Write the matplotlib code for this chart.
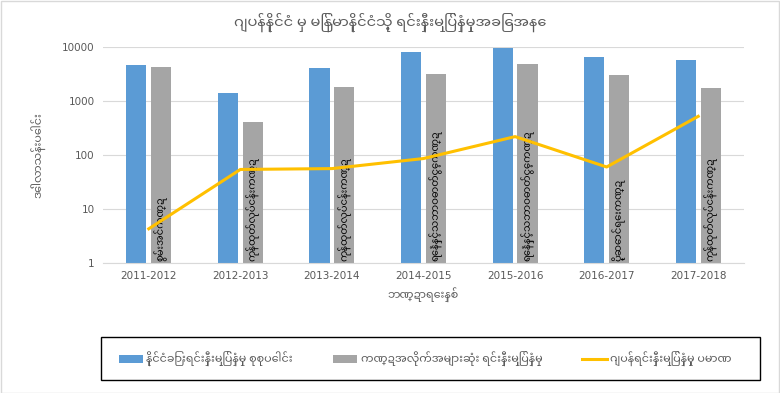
import os
import matplotlib
matplotlib.use("Agg")
import matplotlib.pyplot as plt
from matplotlib import font_manager as fm
from matplotlib.patches import Rectangle
import numpy as np

# myanmar font (needs to be added by path)
mm_path = "/usr/share/fonts/truetype/google-fonts/NotoSansMyanmarUI-Regular.ttf"
mm_name = "DejaVu Sans"
if os.path.exists(mm_path):
    fm.fontManager.addfont(mm_path)
    mm_name = fm.FontProperties(fname=mm_path).get_name()
plt.rcParams['font.family'] = [mm_name, 'DejaVu Sans']

years = ["2011-2012", "2012-2013", "2013-2014", "2014-2015",
         "2015-2016", "2016-2017", "2017-2018"]
total_fdi = [4644, 1419, 4107, 8010, 9481, 6650, 5718]
top_sector = [4344, 400, 1827, 3220, 4818, 3056, 1768]
sector_names = ["စွမ်းအင်ကဏ္ဍ", "ကုန်ထုတ်လုပ်ငန်းကဏ္ဍ", "ကုန်ထုတ်လုပ်ငန်းကဏ္ဍ",
                "ရေနံနှင့်သဘာဝဓာတ်ငွေ့ကဏ္ဍ", "ရေနံနှင့်သဘာဝဓာတ်ငွေ့ကဏ္ဍ",
                "ပို့ဆောင်ရေးကဏ္ဍ", "ကုန်ထုတ်လုပ်ငန်းကဏ္ဍ"]
japan_fdi = [4.3, 54, 56, 86, 219, 60, 520]

legend_labels = ["နိုင်ငံခြားရင်းနှီးမြှုပ်နှံမှု စုစုပေါင်း",
                 "ကဏ္ဍအလိုက်အများဆုံး ရင်းနှီးမြှုပ်နှံမှု",
                 "ဂျပန်ရင်းနှီးမြှုပ်နှံမှု ပမာဏ"]

blue = "#5B9BD5"
grey = "#A5A5A5"
yellow = "#FFC000"
txt = "#595959"

fig = plt.figure(figsize=(7.8, 3.93), dpi=100)
ax = fig.add_axes([103/780, 1-263/393, 641/780, 216/393])

x = np.arange(len(years))
w = 0.22
b1 = ax.bar(x - 0.135, total_fdi, w, color=blue, label=legend_labels[0], zorder=2)
b2 = ax.bar(x + 0.135, top_sector, w, color=grey, label=legend_labels[1], zorder=2)
l1, = ax.plot(x, japan_fdi, color=yellow, lw=2.2, label=legend_labels[2], zorder=4)

for xi, name in zip(x, sector_names):
    ax.text(xi + 0.135, 1.1, name, rotation=90, ha="center", va="bottom",
            fontsize=7.2, color="black", zorder=3)

ax.set_yscale("log")
ax.set_ylim(1, 10000)
ax.set_xlim(-0.5, len(years) - 0.5)
ax.set_yticks([1, 10, 100, 1000, 10000])
ax.set_yticklabels(["1", "10", "100", "1000", "10000"])
ax.minorticks_off()
ax.set_xticks(x)
ax.set_xticklabels(years)
ax.tick_params(axis="both", length=0, labelsize=7.5, colors=txt, pad=6)
ax.grid(axis="y", color="#D9D9D9", lw=0.8, zorder=0)
for s in ["left", "right", "top"]:
    ax.spines[s].set_visible(False)
ax.spines["bottom"].set_color("#D9D9D9")

ax.set_ylabel("ဒေါ်လာသန်းပေါင်း", fontsize=8, color=txt, labelpad=12)
ax.set_xlabel("ဘဏ္ဍာရေးနှစ်", fontsize=8, color=txt, labelpad=4)
fig.text(0.5, 1-22/393, "ဂျပန်နိုင်ငံ မှ မြန်မာနိုင်ငံသို့ ရင်းနှီးမြှုပ်နှံမှုအခြေအနေ",
         ha="center", va="center", fontsize=10.5, color=txt)

# legend box
fig.patches.append(Rectangle((101/780, 1-380/393), 659/780, 43/393,
                             transform=fig.transFigure, fill=False,
                             edgecolor="black", lw=1))
fig.legend(handles=[b1, b2, l1], loc="center", bbox_to_anchor=(0.545, 1-358.5/393),
           ncol=3, frameon=False, fontsize=8, labelcolor=txt,
           handlelength=2.2, columnspacing=3.6, handletextpad=0.3)

# outer border
fig.patches.append(Rectangle((0.001, 0.001), 0.998, 0.997, transform=fig.transFigure,
                             fill=False, edgecolor="#D9D9D9", lw=1))

fig.savefig("out.png")
